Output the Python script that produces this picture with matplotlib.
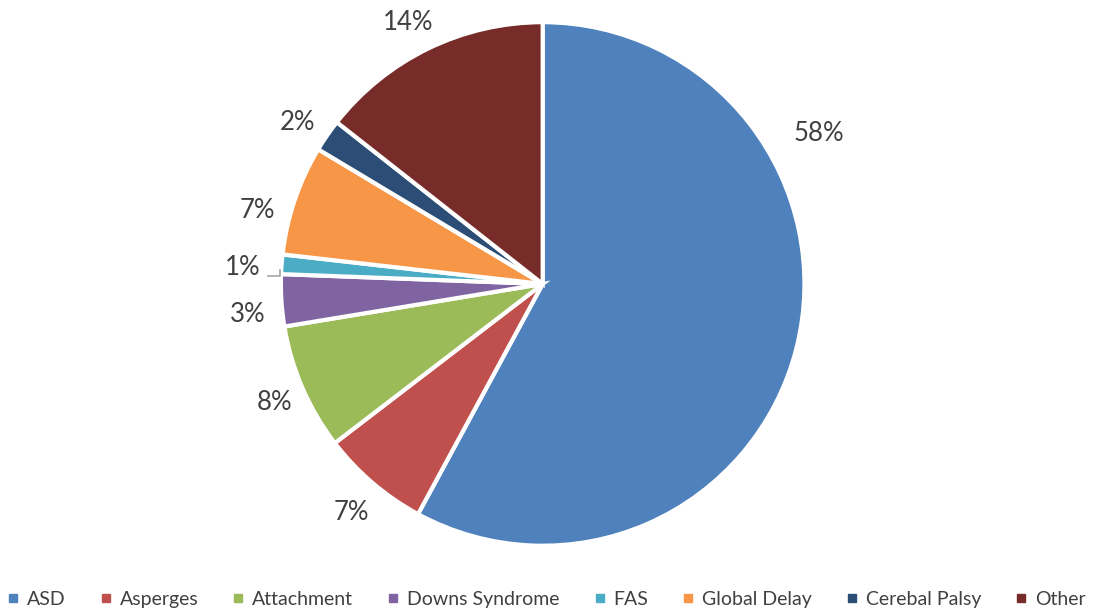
import matplotlib.pyplot as plt
from matplotlib.lines import Line2D

categories = ['ASD', 'Asperges', 'Attachment', 'Downs Syndrome', 'FAS',
              'Global Delay', 'Cerebal Palsy', 'Other']
values = [57.9, 6.7, 7.8, 3.2, 1.2, 6.8, 2.0, 14.4]
colors = ['#4F81BD', '#C0504D', '#9BBB59', '#8064A2', '#4BACC6',
          '#F79646', '#2C4D75', '#772C2A']

# label positions (pie radius = 1), placed like Excel's best fit
label_pos = [(1.057, 0.576), (-0.729, -0.874), (-1.023, -0.454), (-1.126, -0.118),
             (-1.145, 0.061), (-1.088, 0.279), (-0.935, 0.618), (-0.515, 1.0)]

plt.rcParams['font.family'] = ['Lato', 'DejaVu Sans']
txt = '#404040'

fig = plt.figure(figsize=(10.93, 6.10), dpi=100)
ax = fig.add_axes([0.257, 0.105, 0.479, 0.859])

wedges, _ = ax.pie(values, colors=colors, startangle=90, counterclock=False,
                   radius=1, wedgeprops=dict(edgecolor='white', linewidth=3))

total = sum(values)
for v, (x, y) in zip(values, label_pos):
    ax.text(x, y, f'{v / total * 100:.0f}%', ha='center', va='center',
            fontsize=18.5, color=txt)

# small leader line for the 1% label
ax.plot([-1.05, -1.004, -1.004], [0.031, 0.031, 0.053], color='#A6A6A6',
        lw=1.2, clip_on=False)

ax.set_xlim(-1, 1)
ax.set_ylim(-1, 1)
ax.set_aspect('equal')
ax.axis('off')

handles = [Line2D([0], [0], marker='s', color='none', markerfacecolor=c,
                  markeredgecolor=c, markersize=6) for c in colors]
fig.legend(handles, categories, loc='center', bbox_to_anchor=(0.5, 0.018),
           ncol=8, frameon=False, fontsize=14, handlelength=0.6,
           handletextpad=0.4, columnspacing=1.77, labelcolor=txt)

fig.savefig('out.png', dpi=100, facecolor='white')
